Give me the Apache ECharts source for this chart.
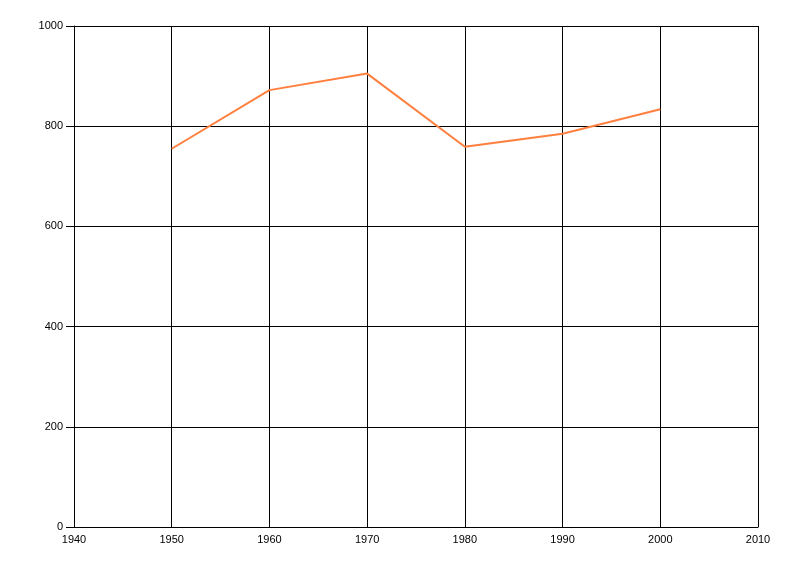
<!DOCTYPE html>
<html>
<head>
<meta charset="utf-8">
<script src="https://cdn.jsdelivr.net/npm/echarts@6/dist/echarts.min.js"></script>
<style>html,body{margin:0;padding:0;background:#fff}#c{width:800px;height:576px}</style>
</head>
<body>
<div id="c"></div>
<script>
var years = [1950, 1960, 1970, 1980, 1990, 2000];
var values = [755, 872, 905, 759, 785, 834];
var xTicks = [1940, 1950, 1960, 1970, 1980, 1990, 2000, 2010];
var yTicks = [0, 200, 400, 600, 800, 1000];

var chart = echarts.init(document.getElementById('c'), null, {renderer: 'canvas'});
var font = {fontFamily: 'Liberation Sans, Arial, sans-serif', fontSize: 11, color: '#000'};
chart.setOption({
  animation: false,
  backgroundColor: '#fff',
  grid: {left: 74, right: 42, top: 26, bottom: 49, containLabel: false},
  xAxis: {
    type: 'value', min: xTicks[0], max: xTicks[xTicks.length - 1], interval: 10,
    axisLine: {show: true, lineStyle: {color: '#000', width: 1}},
    axisTick: {show: false},
    axisLabel: Object.assign({margin: 7, formatter: function (v) { return String(v); }}, font),
    splitLine: {show: true, lineStyle: {color: '#000', width: 1}}
  },
  yAxis: {
    type: 'value', min: yTicks[0], max: yTicks[yTicks.length - 1], interval: 200,
    axisLine: {show: true, lineStyle: {color: '#000', width: 1}},
    axisTick: {show: true, length: 8, lineStyle: {color: '#000'}},
    axisLabel: Object.assign({margin: 11, formatter: function (v) { return String(v); }}, font),
    splitLine: {show: true, lineStyle: {color: '#000', width: 1}}
  },
  series: [{
    type: 'line',
    data: years.map(function (y, i) { return [y, values[i]]; }),
    showSymbol: false,
    lineStyle: {color: '#FF7F3F', width: 2},
    itemStyle: {color: '#FF7F3F'}
  }]
});
</script>
</body>
</html>
